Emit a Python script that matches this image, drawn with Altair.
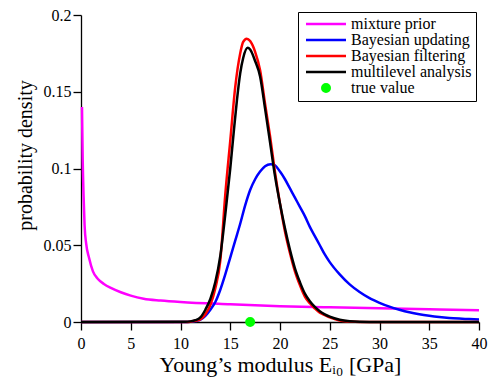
import altair as alt
import pandas as pd

# ---- data ----
prior_x = [0.1, 0.17, 0.26, 0.36, 0.52, 0.8, 1.2, 1.7, 2.3, 3.0, 4.0, 5.0, 6.3, 8.0, 10.0, 15.0, 20.0, 25.0, 30.0, 35.0, 40.0]
prior_y = [0.140, 0.106, 0.082, 0.063, 0.051, 0.042, 0.033, 0.028, 0.0248, 0.0222, 0.0194, 0.0172, 0.0152, 0.0140, 0.0130, 0.0115, 0.0103, 0.0096, 0.0090, 0.0083, 0.0077]

upd_x = [0, 10.5, 11.0, 11.5, 12.0, 12.5, 13.0, 13.5, 14.0, 14.5, 15.0, 15.5, 16.0, 16.5, 17.0, 17.5, 18.0, 18.5, 19.05, 19.5,
         20.0, 20.5, 21.0, 21.5, 22.0, 22.5, 23.0, 23.5, 24.0, 24.5, 25.0, 26.0, 27.0, 28.0, 29.0, 30.0, 31.0, 32.0, 33.0,
         34.0, 35.0, 36.0, 37.0, 38.0, 39.0, 40.0]
upd_y = [0, 0, 0.0002, 0.0006, 0.0015, 0.004, 0.008, 0.013, 0.021, 0.031, 0.042, 0.053, 0.064, 0.076, 0.086, 0.093, 0.098, 0.1015, 0.1028, 0.102,
         0.098, 0.093, 0.087, 0.081, 0.075, 0.069, 0.062, 0.056, 0.050, 0.044, 0.039, 0.031, 0.0245, 0.0195, 0.0155, 0.0125, 0.010, 0.008, 0.0063,
         0.005, 0.004, 0.0032, 0.0026, 0.0022, 0.0019, 0.0016]

filt_x = [0, 10.5, 11.0, 11.5, 12.0, 12.5, 13.0, 13.5, 14.0, 14.5, 15.0, 15.5, 16.0, 16.3, 16.65, 17.0, 17.5, 18.0, 18.5, 19.0,
          19.5, 20.0, 20.5, 21.0, 21.5, 22.0, 22.5, 23.0, 23.5, 24.0, 24.5, 25.0, 26.0, 27.0, 28.0, 40.0]
filt_y = [0, 0, 0.0002, 0.0008, 0.0017, 0.005, 0.011, 0.022, 0.040, 0.083, 0.118, 0.153, 0.175, 0.1825, 0.1846, 0.183, 0.176, 0.164, 0.142, 0.121,
          0.0974, 0.077, 0.059, 0.045, 0.033, 0.024, 0.0165, 0.0122, 0.0088, 0.006, 0.0045, 0.003, 0.001, 0.0003, 0.0, 0.0]

multi_x = [0, 10.5, 11.0, 11.5, 12.0, 12.5, 13.0, 13.5, 14.0, 14.5, 15.0, 15.34, 15.67, 16.0, 16.3, 16.75, 17.0, 17.5, 18.0, 18.5,
           19.0, 19.5, 20.0, 20.5, 21.0, 21.5, 22.0, 22.5, 23.0, 23.5, 24.0, 24.5, 25.0, 26.0, 27.0, 28.0, 29.0, 40.0]
multi_y = [0, 0.0001, 0.0004, 0.0012, 0.003, 0.008, 0.015, 0.026, 0.043, 0.070, 0.100, 0.123, 0.1444, 0.162, 0.172, 0.1786, 0.1775, 0.170, 0.160, 0.139,
           0.117, 0.095, 0.077, 0.061, 0.047, 0.035, 0.026, 0.0185, 0.0135, 0.0098, 0.007, 0.005, 0.0035, 0.0015, 0.0005, 0.0001, 0.0, 0.0]

true_x = [17.0]
true_y = [0.0]

curve_names = ["mixture prior", "Bayesian updating", "Bayesian filtering", "multilevel analysis"]
curve_colors = ["#ff00ff", "#0000ff", "#ff0000", "#000000"]
series_names = curve_names + ["true value"]
series_colors = curve_colors + ["#00ff00"]
x_ticks = [0, 5, 10, 15, 20, 25, 30, 35, 40]
y_ticks = [0, 0.05, 0.1, 0.15, 0.2]

# legend symbol shapes (line for curves, dot for the true value)
LINE_PATH = "M-4,0H4"
DOT_PATH = ("M-0.75,0A0.75,0.75 0 1,0 0.75,0A0.75,0.75 0 1,0 -0.75,0"
            "M-0.3,0A0.3,0.3 0 1,0 0.3,0A0.3,0.3 0 1,0 -0.3,0M-0.1,0H0.1")
series_shapes = [LINE_PATH, LINE_PATH, LINE_PATH, LINE_PATH, DOT_PATH]

curves = [
    ("mixture prior", prior_x, prior_y),
    ("Bayesian updating", upd_x, upd_y),
    ("Bayesian filtering", filt_x, filt_y),
    ("multilevel analysis", multi_x, multi_y),
]

FONT = "Liberation Serif"

xscale = alt.Scale(domain=[0, 40], nice=False)
yscale = alt.Scale(domain=[0, 0.2], nice=False)
xaxis = alt.Axis(values=x_ticks, title="Young\u2019s modulus E\u1d62\u2080 [GPa]", labelFlush=False,
                 labelPadding=5, titlePadding=3, titleFontSize=22)
yaxis = alt.Axis(values=y_ticks, title="probability density", format="~g", labelPadding=2, titlePadding=8,
                 titleFontSize=20, titleY=140)

stroke_scale = alt.Scale(domain=curve_names, range=curve_colors)

layers = []
for name, xs, ys in curves:
    df = pd.DataFrame({"x": xs, "y": ys, "series": name})
    layers.append(
        alt.Chart(df).mark_line(strokeWidth=2.5, interpolate="monotone").encode(
            x=alt.X("x:Q", scale=xscale, axis=xaxis),
            y=alt.Y("y:Q", scale=yscale, axis=yaxis),
            stroke=alt.Stroke("series:N", scale=stroke_scale, legend=None),
        )
    )

legend = alt.Legend(
    title=None, orient="none", legendX=217, legendY=-3,
    strokeColor="black", fillColor="white", padding=4, cornerRadius=0,
    labelFont=FONT, labelFontSize=16, labelColor="black",
    symbolSize=100, symbolStrokeWidth=2.5, symbolOffset=16, labelOffset=17,
    rowPadding=-4, symbolOpacity=1,
)

df_true = pd.DataFrame({"x": true_x, "y": true_y, "series": "true value"})
points = alt.Chart(df_true).mark_point(filled=False, size=100, strokeWidth=2.5, opacity=1, clip=False).encode(
    x=alt.X("x:Q", scale=xscale, axis=xaxis),
    y=alt.Y("y:Q", scale=yscale, axis=yaxis),
    color=alt.Color("series:N", scale=alt.Scale(domain=series_names, range=series_colors), legend=legend),
    shape=alt.Shape("series:N", scale=alt.Scale(domain=series_names, range=series_shapes), legend=legend),
)

chart = alt.layer(*layers, points).properties(
    width=398, height=307,
    background="white",
    padding={"left": 73, "top": 7, "right": 9, "bottom": 58},
    autosize=alt.AutoSizeParams(type="none"),
).configure_view(stroke=None).configure_axis(
    grid=False, domainColor="black", domainWidth=1.3, tickColor="black", tickWidth=1.3, tickSize=8,
    labelFont=FONT, labelFontSize=16, labelColor="black",
    titleFont=FONT, titleColor="black", titleFontWeight="normal",
)

chart.save("out.html", embed_options={"renderer": "svg", "actions": False})
